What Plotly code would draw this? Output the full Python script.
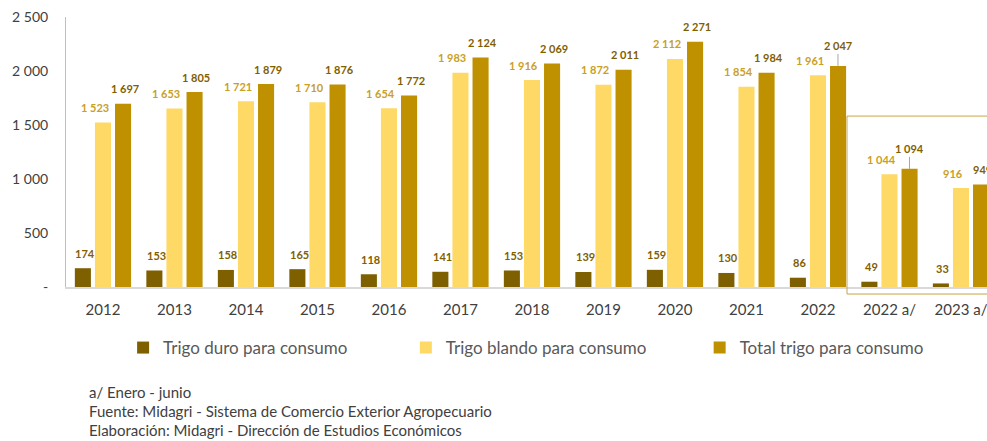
import plotly.graph_objects as go

categories = ["2012", "2013", "2014", "2015", "2016", "2017", "2018", "2019",
              "2020", "2021", "2022", "2022 a/", "2023 a/"]
duro = [174, 153, 158, 165, 118, 141, 153, 139, 159, 130, 86, 49, 33]
blando = [1523, 1653, 1721, 1710, 1654, 1983, 1916, 1872, 2112, 1854, 1961, 1044, 916]
total = [1697, 1805, 1879, 1876, 1772, 2124, 2069, 2011, 2271, 1984, 2047, 1094, 949]

y_tickvals = [0, 500, 1000, 1500, 2000, 2500]
y_ticktext = ["-", "500", "1 000", "1 500", "2 000", "2 500"]

names = ["Trigo duro para consumo", "Trigo blando para consumo", "Total trigo para consumo"]
bar_colors = ["#7F6000", "#FFD966", "#BF9000"]
label_colors = ["#7F6000", "#C9A024", "#7F6000"]
notes = ["a/ Enero - junio",
         "Fuente: Midagri - Sistema de Comercio Exterior Agropecuario",
         "Elaboración: Midagri - Dirección de Estudios Económicos"]

FONT = "Lato"


def fmt(v):
    return f"{v:,}".replace(",", " ")


legend_ids = ["legend", "legend2", "legend3"]
fig = go.Figure()
series = [duro, blando, total]
for name, vals, col, lg in zip(names, series, bar_colors, legend_ids):
    fig.add_trace(go.Bar(x=categories, y=vals, name=name, legend=lg,
                         marker=dict(color=col, line=dict(width=0)),
                         hoverinfo="x+y"))

annotations = []
offsets = [-18, -8, 22]
for si, vals in enumerate(series):
    for ci, (cat, v) in enumerate(zip(categories, vals)):
        leader = si == 2 and cat in ("2022", "2022 a/")
        common = dict(x=ci, y=v, xref="x", yref="y", text=f"<b>{fmt(v)}</b>",
                      font=dict(family=FONT, size=11, color=label_colors[si]))
        if leader:
            annotations.append(dict(common, showarrow=True, arrowhead=0,
                                    arrowwidth=1, arrowcolor="#A6A6A6",
                                    ax=0, ay=-20, standoff=0, xshift=20))
        else:
            annotations.append(dict(common, showarrow=False, yshift=15,
                                    xshift=offsets[si],
                                    yanchor="middle", xanchor="center"))

note_y = [-0.389, -0.459, -0.530]
for t, yy in zip(notes, note_y):
    annotations.append(dict(x=0.0228, y=yy, xref="paper", yref="paper", text=t,
                            showarrow=False, xanchor="left", yanchor="middle",
                            font=dict(family=FONT, size=15, color="#404040")))

leg_common = dict(orientation="h", y=-0.226, xanchor="left", yanchor="middle",
                  font=dict(family=FONT, size=17, color="#595959"),
                  bgcolor="rgba(0,0,0,0)")
fig.update_layout(
    width=987, height=441,
    margin=dict(l=66, r=0, t=17, b=154, autoexpand=False),
    paper_bgcolor="white", plot_bgcolor="white",
    barmode="group", bargap=0.157, bargroupgap=0.2,
    font=dict(family=FONT, color="#404040"),
    showlegend=True,
    legend=dict(leg_common, x=0.062),
    legend2=dict(leg_common, x=0.369),
    legend3=dict(leg_common, x=0.688),
    annotations=annotations,
    shapes=[dict(type="rect", xref="paper", yref="paper",
                 x0=0.848, x1=1.05, y0=-0.026, y1=0.633,
                 line=dict(color="#C9A54B", width=1), fillcolor="rgba(0,0,0,0)",
                 layer="above")],
)
fig.update_xaxes(type="category", range=[-0.517, 12.364], showline=True,
                 linecolor="#D9D9D9", linewidth=1.5, ticks="", showgrid=False,
                 automargin=False,
                 tickfont=dict(family=FONT, size=15, color="#404040"),
                 ticklabelstandoff=8)
fig.update_yaxes(range=[0, 2500], tickvals=y_tickvals, ticktext=y_ticktext,
                 showline=True, linecolor="#BFBFBF", linewidth=1, ticks="",
                 showgrid=False, zeroline=False, automargin=False,
                 tickfont=dict(family=FONT, size=14, color="#404040"),
                 ticklabelstandoff=14)

fig.write_html("out.html", config={"displayModeBar": False},
               post_script="document.body.style.margin='0';document.body.style.overflow='hidden';")
